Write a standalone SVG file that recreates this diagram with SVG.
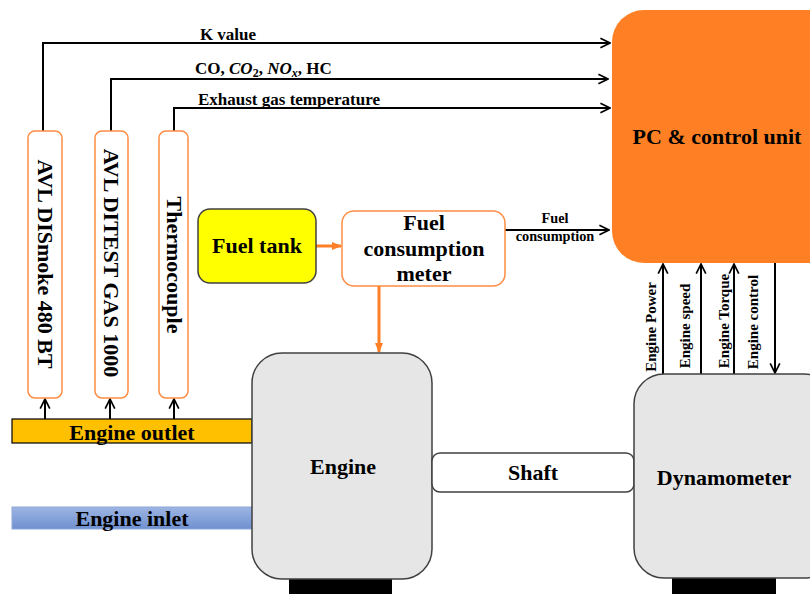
<svg xmlns="http://www.w3.org/2000/svg" width="810" height="594" viewBox="0 0 810 594">
<style>
text{font-family:"Liberation Serif","DejaVu Serif",serif;font-weight:bold;fill:#000}
.conn{stroke:#000;stroke-width:2;fill:none}
.oconn{stroke:#ff7f27;stroke-width:3;fill:none}
.sensor{fill:#fff;stroke:#ff8c42;stroke-width:1.5}
.gray{fill:#e6e6e6;stroke:#404040;stroke-width:1.5}
.big{font-size:22px}
.mid{font-size:17px}
.lab{font-size:15px}
</style>
<defs>
<marker id="ahb" viewBox="0 0 10 10" refX="9" refY="5" markerWidth="12" markerHeight="12" orient="auto" markerUnits="userSpaceOnUse">
<path d="M1,1 L9,5 L1,9" fill="none" stroke="#000" stroke-width="1.4"/>
</marker>
<marker id="oah" viewBox="0 0 10 10" refX="9" refY="5" markerWidth="10" markerHeight="10" orient="auto" markerUnits="userSpaceOnUse">
<path d="M0,1 L10,5 L0,9 Z" fill="#ff7f27"/>
</marker>
<linearGradient id="blue" x1="0" y1="0" x2="0" y2="1">
<stop offset="0" stop-color="#9db5e3"/>
<stop offset="1" stop-color="#6f90d0"/>
</linearGradient>
</defs>

<g id="connectors">
<polyline class="conn" points="43,131 43,43 610,43" marker-end="url(#ahb)"/>
<polyline class="conn" points="111,131 111,79 608,79" marker-end="url(#ahb)"/>
<polyline class="conn" points="174,131 174,108 610,108" marker-end="url(#ahb)"/>
<line class="conn" x1="45" y1="419" x2="45" y2="399" marker-end="url(#ahb)"/>
<line class="conn" x1="110" y1="419" x2="110" y2="399" marker-end="url(#ahb)"/>
<line class="conn" x1="174" y1="419" x2="174" y2="399" marker-end="url(#ahb)"/>
<line class="oconn" x1="316" y1="246" x2="341" y2="246" marker-end="url(#oah)"/>
<line class="oconn" x1="379" y1="286" x2="379" y2="352" marker-end="url(#oah)"/>
<line class="conn" x1="505" y1="230" x2="609" y2="230" marker-end="url(#ahb)"/>
<line class="conn" x1="663" y1="374" x2="663" y2="264" marker-end="url(#ahb)"/>
<line class="conn" x1="701" y1="374" x2="701" y2="264" marker-end="url(#ahb)"/>
<line class="conn" x1="734" y1="374" x2="734" y2="264" marker-end="url(#ahb)"/>
<line class="conn" x1="775" y1="263" x2="775" y2="373" marker-end="url(#ahb)"/>
<text class="mid" x="228" y="40" text-anchor="middle">K value</text>
<text class="mid" x="195" y="74">CO, <tspan font-style="italic">CO</tspan><tspan font-size="12" dy="3">2</tspan><tspan dy="-3">, </tspan><tspan font-style="italic">NO</tspan><tspan font-size="12" font-style="italic" dy="3">x</tspan><tspan dy="-3">, HC</tspan></text>
<text class="mid" x="198" y="105">Exhaust gas temperature</text>
<text x="555" y="223" font-size="14.3" text-anchor="middle">Fuel</text>
<text x="555" y="241" font-size="14.3" text-anchor="middle">consumption</text>
<text class="lab" transform="translate(656,327) rotate(-90)" text-anchor="middle">Engine Power</text>
<text class="lab" transform="translate(690,326) rotate(-90)" text-anchor="middle">Engine speed</text>
<text class="lab" transform="translate(729,321) rotate(-90)" text-anchor="middle">Engine Torque</text>
<text class="lab" transform="translate(758,322) rotate(-90)" text-anchor="middle">Engine control</text>
</g>

<g id="pc-control-unit">
<rect x="612" y="10" width="228" height="253" rx="32" fill="#ff8024"/>
<text class="big" x="717" y="144" text-anchor="middle">PC &amp; control unit</text>
</g>

<g id="avl-dismoke">
<rect class="sensor" x="28" y="131" width="34" height="267" rx="7"/>
<text class="big" transform="translate(38,264) rotate(90)" text-anchor="middle">AVL DISmoke 480 BT</text>
</g>
<g id="avl-ditest">
<rect class="sensor" x="95" y="131" width="33" height="267" rx="7"/>
<text class="big" transform="translate(104,263) rotate(90)" text-anchor="middle">AVL DITEST GAS 1000</text>
</g>
<g id="thermocouple">
<rect class="sensor" x="159" y="131" width="29" height="267" rx="7"/>
<text class="big" transform="translate(167,265) rotate(90)" text-anchor="middle">Thermocouple</text>
</g>

<g id="fuel-tank">
<rect x="198" y="209" width="118" height="74" rx="12" fill="#ffff00" stroke="#404040" stroke-width="1.5"/>
<text class="big" x="257" y="253" text-anchor="middle">Fuel tank</text>
</g>

<g id="fuel-consumption-meter">
<rect x="342" y="211" width="163" height="75" rx="12" fill="#fff" stroke="#ff8c42" stroke-width="1.5"/>
<text class="big" x="424" y="230" text-anchor="middle">Fuel</text>
<text class="big" x="424" y="256" text-anchor="middle">consumption</text>
<text class="big" x="424" y="281" text-anchor="middle">meter</text>
</g>

<g id="engine-outlet">
<rect x="12" y="419" width="240" height="24" fill="#ffc000" stroke="#000" stroke-width="1.2"/>
<text class="big" x="132" y="440" text-anchor="middle">Engine outlet</text>
</g>

<g id="engine-inlet">
<rect x="12" y="507" width="240" height="22" fill="url(#blue)" stroke="#8fa8d8" stroke-width="1"/>
<text class="big" x="132" y="526" text-anchor="middle">Engine inlet</text>
</g>

<g id="engine">
<rect x="289" y="576" width="103" height="20" fill="#000"/>
<rect class="gray" x="252" y="353" width="180" height="226" rx="30"/>
<text class="big" x="343" y="474" text-anchor="middle">Engine</text>
</g>

<g id="shaft">
<rect x="432" y="453" width="202" height="39" rx="8" fill="#fff" stroke="#404040" stroke-width="1.5"/>
<text class="big" x="533" y="480" text-anchor="middle">Shaft</text>
</g>

<g id="dynamometer">
<rect x="672" y="575" width="104" height="21" fill="#000"/>
<rect class="gray" x="634" y="374" width="200" height="204" rx="30"/>
<text class="big" x="724" y="485" text-anchor="middle">Dynamometer</text>
</g>
</svg>
